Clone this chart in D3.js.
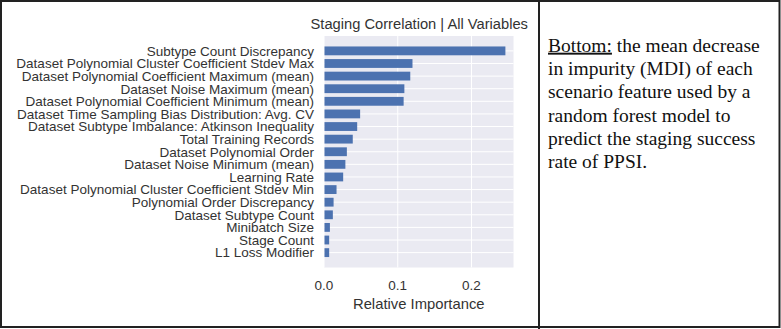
<!DOCTYPE html>
<html>
<head>
<meta charset="utf-8">
<script src="https://cdn.jsdelivr.net/npm/d3@7"></script>
<style>
  html, body { margin: 0; padding: 0; background: #fff; }
  svg { display: block; }
</style>
</head>
<body>
<svg id="chart"></svg>
<script>
// feature names, top to bottom
const features = [
  'Subtype Count Discrepancy',
  'Dataset Polynomial Cluster Coefficient Stdev Max',
  'Dataset Polynomial Coefficient Maximum (mean)',
  'Dataset Noise Maximum (mean)',
  'Dataset Polynomial Coefficient Minimum (mean)',
  'Dataset Time Sampling Bias Distribution: Avg. CV',
  'Dataset Subtype Imbalance: Atkinson Inequality',
  'Total Training Records',
  'Dataset Polynomial Order',
  'Dataset Noise Minimum (mean)',
  'Learning Rate',
  'Dataset Polynomial Cluster Coefficient Stdev Min',
  'Polynomial Order Discrepancy',
  'Dataset Subtype Count',
  'Minibatch Size',
  'Stage Count',
  'L1 Loss Modifier'
];

// relative importance (MDI)
const importance = [
  0.246, 0.120, 0.117, 0.109, 0.108, 0.049, 0.045, 0.039, 0.031,
  0.029, 0.026, 0.017, 0.013, 0.012, 0.008, 0.007, 0.007
];

const xTicks = [0.0, 0.1, 0.2];

const title = 'Staging Correlation | All Variables';
const xLabel = 'Relative Importance';

const captionLines = [
  ['Bottom:', ' the mean decrease'],
  ['', 'in impurity (MDI) of each'],
  ['', 'scenario feature used by a'],
  ['', 'random forest model to'],
  ['', 'predict the staging success'],
  ['', 'rate of PPSI.']
];

const W = 781, H = 329;
const svg = d3.select('#chart').attr('width', W).attr('height', H);

const plot = { x1: 324, x2: 513.5, y1: 36, y2: 267.5 };
const sans = 'Liberation Sans, Arial, sans-serif';
const textCol = '#333';

const x = d3.scaleLinear().domain([0, 0.257]).range([plot.x1, plot.x2]);
const y = d3.scaleBand().domain(features).range([plot.y1, plot.y2])
  .paddingInner(0.3).paddingOuter(0.83);

// plot background
svg.append('rect')
  .attr('x', plot.x1).attr('y', plot.y1)
  .attr('width', plot.x2 - plot.x1).attr('height', plot.y2 - plot.y1)
  .attr('fill', '#eaeaf2');

// grid lines
svg.append('g').selectAll('line').data(xTicks).join('line')
  .attr('x1', d => x(d)).attr('x2', d => x(d))
  .attr('y1', plot.y1).attr('y2', plot.y2)
  .attr('stroke', '#fff').attr('stroke-width', 1);

svg.append('g').selectAll('line').data(features).join('line')
  .attr('x1', plot.x1).attr('x2', plot.x2)
  .attr('y1', d => y(d) + y.bandwidth() / 2).attr('y2', d => y(d) + y.bandwidth() / 2)
  .attr('stroke', '#fff').attr('stroke-width', 1);

// bars
svg.append('g').selectAll('rect').data(features).join('rect')
  .attr('x', x(0) + 0.5)
  .attr('y', d => y(d))
  .attr('width', (d, i) => x(importance[i]) - x(0) - 0.5)
  .attr('height', y.bandwidth())
  .attr('fill', '#4c72b0');

// y labels
svg.append('g').selectAll('text').data(features).join('text')
  .attr('x', 314)
  .attr('y', d => y(d) + y.bandwidth() / 2)
  .attr('dy', '0.36em')
  .attr('text-anchor', 'end')
  .attr('font-family', sans).attr('font-size', 13.5)
  .attr('fill', textCol)
  .text(d => d);

// x tick labels
svg.append('g').selectAll('text').data(xTicks).join('text')
  .attr('x', d => x(d))
  .attr('y', 289.5)
  .attr('text-anchor', 'middle')
  .attr('font-family', sans).attr('font-size', 13.5)
  .attr('fill', textCol)
  .text(d => d3.format('.1f')(d));

// axis label
svg.append('text')
  .attr('x', (plot.x1 + plot.x2) / 2).attr('y', 308.5)
  .attr('text-anchor', 'middle')
  .attr('font-family', sans).attr('font-size', 14.8)
  .attr('fill', textCol)
  .text(xLabel);

// title
svg.append('text')
  .attr('x', (plot.x1 + plot.x2) / 2 + 0.5).attr('y', 29)
  .attr('text-anchor', 'middle')
  .attr('font-family', sans).attr('font-size', 14.7)
  .attr('fill', textCol)
  .text(title);

// caption on the right
const cap = svg.append('text')
  .attr('font-family', 'Liberation Serif, Times New Roman, serif')
  .attr('font-size', 19.5)
  .attr('fill', '#111');
captionLines.forEach((ln, i) => {
  const t = cap.append('tspan').attr('x', 548).attr('y', 51.7 + i * 23.3);
  if (ln[0]) t.append('tspan').attr('text-decoration', 'underline').text(ln[0]);
  t.append('tspan').text(ln[1]);
});

// frame and divider
svg.append('rect')
  .attr('x', 1).attr('y', 1).attr('width', W - 2.5).attr('height', H - 3)
  .attr('fill', 'none').attr('stroke', '#222').attr('stroke-width', 2);
svg.append('line')
  .attr('x1', 539).attr('x2', 539).attr('y1', 0).attr('y2', H)
  .attr('stroke', '#222').attr('stroke-width', 2);
</script>
</body>
</html>
